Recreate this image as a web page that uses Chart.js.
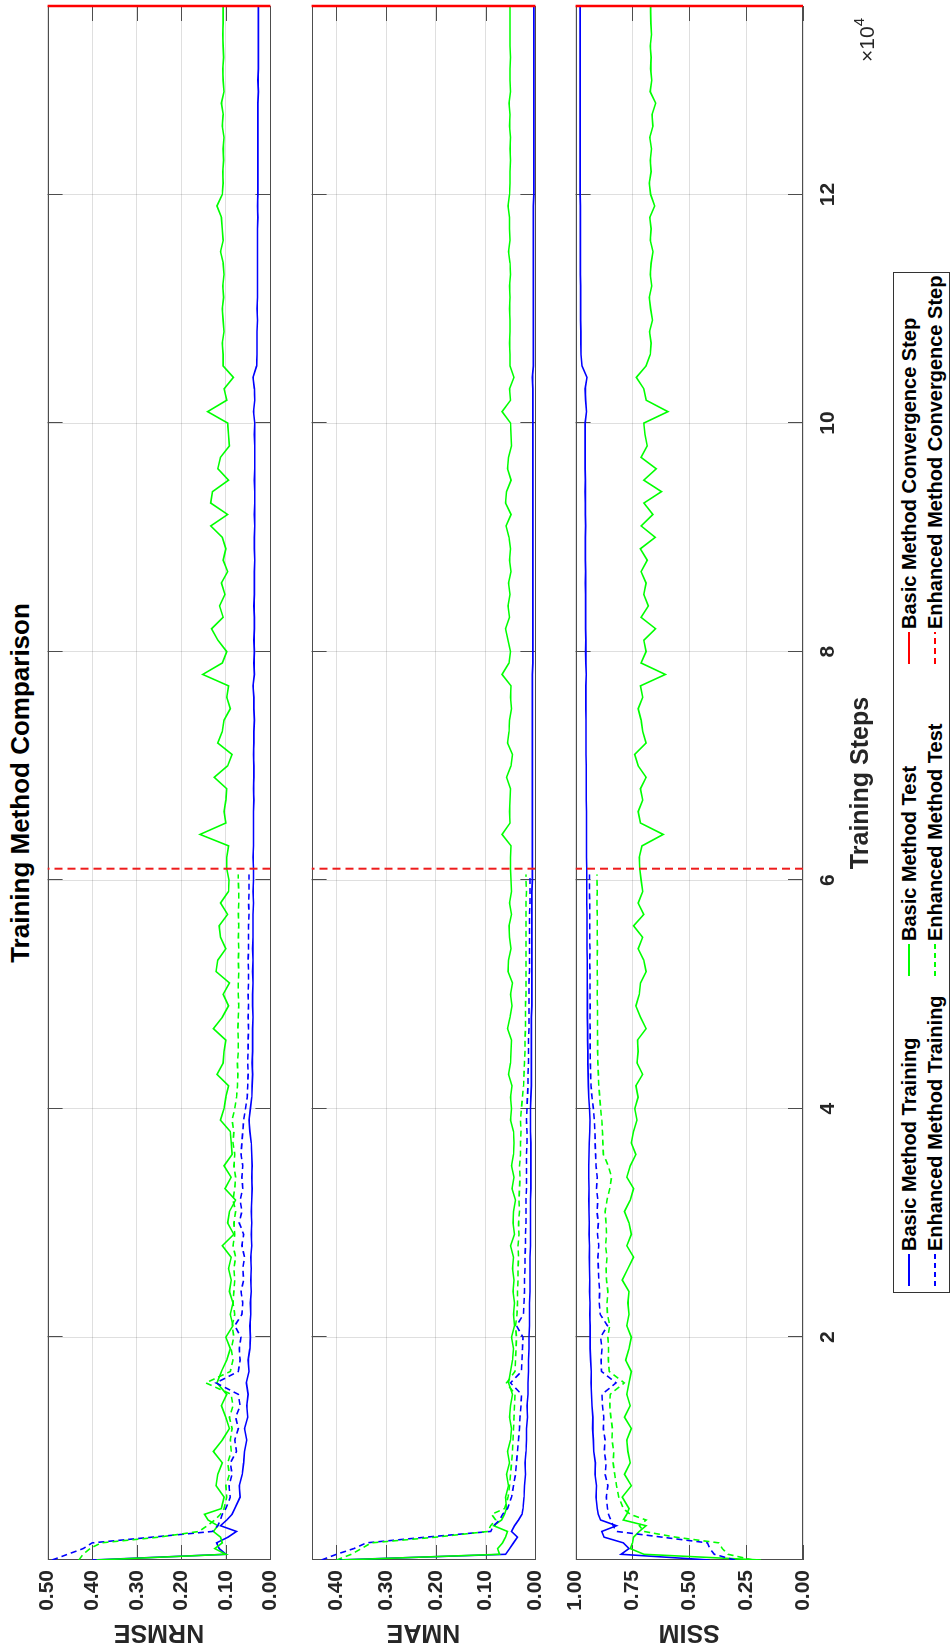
<!DOCTYPE html>
<html>
<head>
<meta charset="utf-8">
<title>Training Method Comparison</title>
<script src="https://cdn.jsdelivr.net/npm/chart.js@4.4.0/dist/chart.umd.min.js"></script>
<style>
    html, body { margin: 0; padding: 0; background: #fff; }
    body { width: 951px; height: 1652px; overflow: hidden; position: relative; }
    /* the figure is laid out landscape and turned a quarter turn */
    #figure {
        position: absolute; left: 0; top: 0; width: 1652px; height: 951px;
        background: #fff; transform-origin: 0 0;
        transform: translate(0, 1652px) rotate(-90deg);
        font-family: "Liberation Sans", Arial, Helvetica, sans-serif; color: #000;
    }
    #figure canvas { position: absolute; left: 0; }
    #title {
        position: absolute; left: 92px; width: 1554px; top: 4px; text-align: center;
        font-size: 26px; font-weight: bold; line-height: 32px;
    }
    #exponent { position: absolute; left: 1590px; top: 855px; font-size: 21px; line-height: 24px; color: #262626; }
    #exponent sup { font-size: 15px; vertical-align: 10px; line-height: 0; }
    #legend {
        position: absolute; left: 359px; top: 893px; width: 1019px; height: 55px;
        border: 1px solid #333; background: #fff;
    }
    .item {
        position: absolute; height: 22px; display: flex; align-items: center;
        font-size: 20px; font-weight: bold; white-space: nowrap;
    }
    .item svg { margin-right: 3px; }
</style>
</head>
<body>
<div id="figure">
    <div id="title">Training Method Comparison</div>
    <canvas id="nrmseChart" width="1652" height="268" style="top:25px"></canvas>
    <canvas id="nmaeChart" width="1652" height="269" style="top:289px"></canvas>
    <canvas id="ssimChart" width="1652" height="330" style="top:553px"></canvas>
    <div id="exponent">&times;10<sup>4</sup></div>
    <div id="legend">
        <div class="item" style="left:6px; top:4px">
            <svg width="32" height="20"><line x1="0" y1="10" x2="32" y2="10" stroke="#0000ff" stroke-width="2"/></svg>Basic Method Training</div>
        <div class="item" style="left:6px; top:30px">
            <svg width="32" height="20"><line x1="0" y1="10" x2="32" y2="10" stroke="#0000ff" stroke-width="2" stroke-dasharray="5 4"/></svg>Enhanced Method Training</div>
        <div class="item" style="left:316px; top:4px">
            <svg width="32" height="20"><line x1="0" y1="10" x2="32" y2="10" stroke="#00ff00" stroke-width="2"/></svg>Basic Method Test</div>
        <div class="item" style="left:316px; top:30px">
            <svg width="32" height="20"><line x1="0" y1="10" x2="32" y2="10" stroke="#00ff00" stroke-width="2" stroke-dasharray="5 4"/></svg>Enhanced Method Test</div>
        <div class="item" style="left:628px; top:4px">
            <svg width="32" height="20"><line x1="0" y1="10" x2="32" y2="10" stroke="#ff0000" stroke-width="2"/></svg>Basic Method Convergence Step</div>
        <div class="item" style="left:628px; top:30px">
            <svg width="32" height="20"><line x1="0" y1="10" x2="32" y2="10" stroke="#ff0000" stroke-width="2" stroke-dasharray="6 4"/></svg>Enhanced Method Convergence Step</div>
    </div>
</div>

<script>

// evaluation steps
const basicSteps = [
    500, 1000, 1500, 2000, 2500, 3000, 3500, 4000, 4500, 5000,
    6000, 7000, 8000, 9000, 10000, 11000, 12000, 13000, 14000, 15000,
    16000, 17000, 18000, 19000, 20000, 21000, 22000, 23000, 24000, 25000,
    26000, 27000, 28000, 29000, 30000, 31000, 32000, 33000, 34000, 35000,
    36000, 37000, 38000, 39000, 40000, 41000, 42000, 43000, 44000, 45000,
    46000, 47000, 48000, 49000, 50000, 51000, 52000, 53000, 54000, 55000,
    56000, 57000, 58000, 59000, 60000, 61000, 62000, 63000, 64000, 65000,
    66000, 67000, 68000, 69000, 70000, 71000, 72000, 73000, 74000, 75000,
    76000, 77000, 78000, 79000, 80000, 81000, 82000, 83000, 84000, 85000,
    86000, 87000, 88000, 89000, 90000, 91000, 92000, 93000, 94000, 95000,
    96000, 97000, 98000, 99000, 100000, 101000, 102000, 103000, 104000, 105000,
    106000, 107000, 108000, 109000, 110000, 111000, 112000, 113000, 114000, 115000,
    116000, 117000, 118000, 119000, 120000, 121000, 122000, 123000, 124000, 125000,
    126000, 127000, 128000, 129000, 130000, 131000, 132000, 133000, 134000, 135000,
    136000, 136500
];

const enhancedSteps = [
    500, 1000, 1500, 2000, 2500, 3000, 3500, 4000, 4500, 5000,
    6000, 7000, 8000, 9000, 10000, 11000, 12000, 13000, 14000, 15000,
    16000, 17000, 18000, 19000, 20000, 21000, 22000, 23000, 24000, 25000,
    26000, 27000, 28000, 29000, 30000, 31000, 32000, 33000, 34000, 35000,
    36000, 37000, 38000, 39000, 40000, 41000, 42000, 43000, 44000, 45000,
    46000, 47000, 48000, 49000, 50000, 51000, 52000, 53000, 54000, 55000,
    56000, 57000, 58000, 59000, 60000,
    60500
];

const basicConvergenceStep = 136500;
const enhancedConvergenceStep = 61000;

// NRMSE
const nrmseBasicTrain = [
    0.400, 0.100, 0.115, 0.121, 0.095, 0.076, 0.112, 0.098, 0.086, 0.080,
    0.068, 0.070, 0.063, 0.060, 0.058, 0.053, 0.058, 0.051, 0.053, 0.050,
    0.054, 0.048, 0.050, 0.046, 0.045, 0.046, 0.044, 0.045, 0.043, 0.044,
    0.043, 0.044, 0.042, 0.043, 0.042, 0.043, 0.042, 0.041, 0.042, 0.041,
    0.042, 0.043, 0.046, 0.048, 0.045, 0.042, 0.041, 0.040, 0.041, 0.040,
    0.040, 0.040, 0.039, 0.040, 0.040, 0.039, 0.040, 0.039, 0.040, 0.039,
    0.039, 0.039, 0.038, 0.039, 0.038, 0.038, 0.039, 0.038, 0.038, 0.038,
    0.038, 0.037, 0.038, 0.037, 0.037, 0.038, 0.037, 0.037, 0.036, 0.037,
    0.037, 0.039, 0.036, 0.037, 0.036, 0.037, 0.036, 0.036, 0.037, 0.036,
    0.036, 0.036, 0.035, 0.036, 0.036, 0.035, 0.036, 0.035, 0.035, 0.036,
    0.035, 0.035, 0.035, 0.036, 0.035, 0.038, 0.035, 0.036, 0.039, 0.031,
    0.030, 0.030, 0.030, 0.029, 0.030, 0.029, 0.029, 0.029, 0.029, 0.029,
    0.029, 0.029, 0.028, 0.029, 0.028, 0.028, 0.028, 0.028, 0.028, 0.028,
    0.028, 0.028, 0.028, 0.027, 0.028, 0.027, 0.027, 0.027, 0.027, 0.027,
    0.027, 0.027
];
const nrmseBasicTest = [
    0.390, 0.100, 0.125, 0.108, 0.112, 0.128, 0.118, 0.140, 0.148, 0.110,
    0.104, 0.122, 0.118, 0.108, 0.128, 0.108, 0.092, 0.100, 0.110, 0.098,
    0.120, 0.110, 0.098, 0.090, 0.100, 0.084, 0.090, 0.084, 0.092, 0.088,
    0.094, 0.088, 0.108, 0.082, 0.096, 0.092, 0.078, 0.102, 0.088, 0.104,
    0.086, 0.088, 0.090, 0.112, 0.104, 0.100, 0.094, 0.120, 0.106, 0.104,
    0.100, 0.128, 0.108, 0.094, 0.106, 0.092, 0.122, 0.118, 0.100, 0.112,
    0.115, 0.096, 0.112, 0.094, 0.093, 0.098, 0.098, 0.094, 0.158, 0.100,
    0.104, 0.100, 0.098, 0.126, 0.096, 0.086, 0.118, 0.108, 0.104, 0.090,
    0.098, 0.094, 0.152, 0.108, 0.098, 0.118, 0.132, 0.106, 0.114, 0.102,
    0.110, 0.096, 0.106, 0.100, 0.108, 0.134, 0.096, 0.134, 0.130, 0.094,
    0.118, 0.112, 0.092, 0.094, 0.096, 0.141, 0.098, 0.104, 0.083, 0.106,
    0.106, 0.108, 0.104, 0.106, 0.108, 0.105, 0.107, 0.104, 0.106, 0.112,
    0.106, 0.108, 0.110, 0.120, 0.108, 0.106, 0.107, 0.105, 0.106, 0.104,
    0.108, 0.106, 0.110, 0.104, 0.106, 0.107, 0.105, 0.106, 0.107, 0.106,
    0.106, 0.106
];
const nrmseEnhancedTrain = [
    0.490, 0.455, 0.420, 0.400, 0.265, 0.130, 0.118, 0.112, 0.108, 0.100,
    0.090, 0.093, 0.086, 0.090, 0.076, 0.080, 0.072, 0.078, 0.068, 0.072,
    0.122, 0.072, 0.068, 0.070, 0.066, 0.080, 0.064, 0.062, 0.066, 0.060,
    0.062, 0.058, 0.064, 0.060, 0.070, 0.064, 0.068, 0.062, 0.064, 0.062,
    0.066, 0.064, 0.062, 0.060, 0.056, 0.052, 0.051, 0.050, 0.051, 0.050,
    0.050, 0.049, 0.050, 0.049, 0.050, 0.049, 0.049, 0.050, 0.049, 0.049,
    0.049, 0.048, 0.049, 0.048, 0.048,
    0.048
];
const nrmseEnhancedTest = [
    0.430, 0.420, 0.405, 0.380, 0.250, 0.160, 0.142, 0.125, 0.112, 0.104,
    0.098, 0.100, 0.092, 0.096, 0.088, 0.090, 0.086, 0.092, 0.084, 0.088,
    0.145, 0.090, 0.084, 0.088, 0.082, 0.086, 0.080, 0.084, 0.082, 0.080,
    0.082, 0.078, 0.084, 0.080, 0.082, 0.078, 0.084, 0.080, 0.078, 0.082,
    0.080, 0.084, 0.082, 0.086, 0.080, 0.076, 0.074, 0.073, 0.074, 0.072,
    0.072, 0.073, 0.072, 0.071, 0.072, 0.072, 0.071, 0.072, 0.071, 0.072,
    0.071, 0.072, 0.071, 0.071, 0.072,
    0.072
];

// NMAE
const nmaeBasicTrain = [
    0.400, 0.060, 0.052, 0.044, 0.036, 0.048, 0.042, 0.034, 0.027, 0.025,
    0.023, 0.022, 0.020, 0.021, 0.019, 0.018, 0.018, 0.016, 0.017, 0.015,
    0.015, 0.014, 0.014, 0.013, 0.013, 0.012, 0.012, 0.012, 0.011, 0.011,
    0.011, 0.011, 0.010, 0.010, 0.010, 0.010, 0.010, 0.009, 0.009, 0.009,
    0.009, 0.009, 0.010, 0.010, 0.010, 0.009, 0.008, 0.008, 0.008, 0.008,
    0.008, 0.008, 0.008, 0.007, 0.007, 0.007, 0.007, 0.007, 0.007, 0.007,
    0.007, 0.007, 0.007, 0.007, 0.006, 0.006, 0.006, 0.006, 0.006, 0.006,
    0.006, 0.006, 0.006, 0.006, 0.006, 0.006, 0.006, 0.006, 0.006, 0.006,
    0.006, 0.006, 0.006, 0.005, 0.005, 0.005, 0.005, 0.005, 0.005, 0.005,
    0.005, 0.005, 0.005, 0.005, 0.005, 0.005, 0.005, 0.005, 0.005, 0.005,
    0.005, 0.005, 0.005, 0.005, 0.005, 0.005, 0.005, 0.005, 0.006, 0.004,
    0.004, 0.004, 0.004, 0.004, 0.004, 0.004, 0.004, 0.004, 0.004, 0.004,
    0.004, 0.004, 0.004, 0.004, 0.003, 0.003, 0.003, 0.003, 0.003, 0.003,
    0.003, 0.003, 0.003, 0.003, 0.003, 0.003, 0.003, 0.003, 0.003, 0.003,
    0.003, 0.003
];
const nmaeBasicTest = [
    0.390, 0.072, 0.076, 0.066, 0.060, 0.056, 0.084, 0.068, 0.062, 0.058,
    0.060, 0.054, 0.058, 0.052, 0.056, 0.050, 0.048, 0.052, 0.050, 0.046,
    0.054, 0.050, 0.046, 0.044, 0.048, 0.042, 0.044, 0.042, 0.045, 0.043,
    0.046, 0.044, 0.050, 0.042, 0.045, 0.044, 0.040, 0.047, 0.043, 0.048,
    0.044, 0.043, 0.044, 0.050, 0.048, 0.050, 0.047, 0.054, 0.050, 0.049,
    0.048, 0.056, 0.051, 0.047, 0.050, 0.046, 0.055, 0.054, 0.049, 0.052,
    0.053, 0.048, 0.052, 0.048, 0.049, 0.050, 0.050, 0.049, 0.067, 0.051,
    0.052, 0.051, 0.050, 0.058, 0.049, 0.046, 0.056, 0.053, 0.052, 0.048,
    0.050, 0.049, 0.067, 0.053, 0.050, 0.055, 0.060, 0.052, 0.055, 0.051,
    0.054, 0.049, 0.052, 0.050, 0.053, 0.059, 0.049, 0.060, 0.058, 0.049,
    0.056, 0.054, 0.048, 0.049, 0.050, 0.067, 0.050, 0.052, 0.043, 0.051,
    0.051, 0.052, 0.051, 0.051, 0.052, 0.051, 0.052, 0.050, 0.051, 0.054,
    0.051, 0.052, 0.052, 0.055, 0.052, 0.051, 0.051, 0.050, 0.051, 0.050,
    0.052, 0.051, 0.053, 0.050, 0.051, 0.051, 0.050, 0.051, 0.051, 0.051,
    0.051, 0.051
];
const nmaeEnhancedTrain = [
    0.430, 0.400, 0.365, 0.340, 0.220, 0.090, 0.084, 0.072, 0.066, 0.056,
    0.048, 0.044, 0.040, 0.038, 0.036, 0.034, 0.032, 0.031, 0.029, 0.028,
    0.050, 0.028, 0.027, 0.026, 0.025, 0.038, 0.024, 0.023, 0.022, 0.022,
    0.021, 0.021, 0.020, 0.020, 0.019, 0.019, 0.019, 0.018, 0.018, 0.018,
    0.018, 0.017, 0.017, 0.018, 0.017, 0.016, 0.015, 0.015, 0.014, 0.014,
    0.014, 0.013, 0.013, 0.013, 0.013, 0.013, 0.012, 0.012, 0.012, 0.012,
    0.012, 0.012, 0.011, 0.011, 0.011,
    0.011
];
const nmaeEnhancedTest = [
    0.400, 0.370, 0.350, 0.330, 0.200, 0.095, 0.090, 0.080, 0.088, 0.062,
    0.055, 0.052, 0.050, 0.048, 0.046, 0.045, 0.044, 0.043, 0.042, 0.041,
    0.058, 0.041, 0.040, 0.039, 0.038, 0.040, 0.037, 0.036, 0.036, 0.035,
    0.035, 0.034, 0.035, 0.033, 0.034, 0.032, 0.033, 0.032, 0.031, 0.032,
    0.030, 0.030, 0.029, 0.030, 0.028, 0.026, 0.024, 0.023, 0.022, 0.021,
    0.021, 0.020, 0.020, 0.020, 0.019, 0.019, 0.019, 0.019, 0.019, 0.019,
    0.019, 0.019, 0.019, 0.018, 0.019,
    0.019
];

// SSIM
const ssimBasicTrain = [
    0.410, 0.800, 0.765, 0.790, 0.875, 0.885, 0.820, 0.890, 0.900, 0.905,
    0.910, 0.908, 0.915, 0.913, 0.920, 0.922, 0.925, 0.924, 0.928, 0.930,
    0.932, 0.931, 0.934, 0.936, 0.937, 0.936, 0.938, 0.937, 0.939, 0.938,
    0.939, 0.940, 0.939, 0.941, 0.940, 0.941, 0.942, 0.941, 0.942, 0.942,
    0.941, 0.940, 0.938, 0.937, 0.939, 0.942, 0.944, 0.945, 0.946, 0.946,
    0.947, 0.947, 0.948, 0.948, 0.948, 0.949, 0.949, 0.949, 0.950, 0.950,
    0.950, 0.950, 0.951, 0.951, 0.951, 0.951, 0.952, 0.952, 0.952, 0.952,
    0.952, 0.953, 0.953, 0.953, 0.953, 0.954, 0.954, 0.954, 0.954, 0.955,
    0.955, 0.955, 0.953, 0.955, 0.956, 0.955, 0.956, 0.956, 0.956, 0.956,
    0.957, 0.956, 0.957, 0.957, 0.957, 0.956, 0.957, 0.957, 0.958, 0.957,
    0.958, 0.958, 0.958, 0.958, 0.958, 0.952, 0.956, 0.958, 0.950, 0.972,
    0.976, 0.977, 0.977, 0.978, 0.978, 0.978, 0.978, 0.979, 0.979, 0.979,
    0.979, 0.979, 0.979, 0.979, 0.980, 0.980, 0.980, 0.980, 0.980, 0.980,
    0.980, 0.980, 0.980, 0.980, 0.980, 0.980, 0.980, 0.980, 0.980, 0.980,
    0.980, 0.980
];
const ssimBasicTest = [
    0.185, 0.700, 0.760, 0.750, 0.745, 0.720, 0.690, 0.790, 0.775, 0.765,
    0.795, 0.755, 0.785, 0.760, 0.770, 0.775, 0.755, 0.785, 0.760, 0.775,
    0.765, 0.755, 0.780, 0.765, 0.755, 0.775, 0.765, 0.770, 0.765, 0.795,
    0.770, 0.745, 0.775, 0.755, 0.765, 0.785, 0.760, 0.745, 0.775, 0.760,
    0.735, 0.755, 0.745, 0.730, 0.740, 0.725, 0.735, 0.705, 0.730, 0.725,
    0.728, 0.690, 0.715, 0.735, 0.720, 0.715, 0.690, 0.700, 0.725, 0.705,
    0.745, 0.700, 0.725, 0.705, 0.712, 0.718, 0.720, 0.708, 0.615, 0.715,
    0.725, 0.705, 0.715, 0.690, 0.725, 0.740, 0.690, 0.705, 0.712, 0.725,
    0.705, 0.715, 0.605, 0.712, 0.690, 0.700, 0.648, 0.712, 0.680, 0.700,
    0.690, 0.712, 0.685, 0.715, 0.650, 0.712, 0.660, 0.700, 0.622, 0.700,
    0.645, 0.712, 0.685, 0.695, 0.700, 0.594, 0.690, 0.700, 0.733, 0.690,
    0.672, 0.668, 0.675, 0.662, 0.670, 0.676, 0.665, 0.672, 0.668, 0.660,
    0.672, 0.668, 0.674, 0.652, 0.670, 0.676, 0.668, 0.672, 0.666, 0.674,
    0.660, 0.664, 0.648, 0.672, 0.665, 0.670, 0.668, 0.672, 0.666, 0.669,
    0.670, 0.670
];
const ssimEnhancedTrain = [
    0.300, 0.390, 0.410, 0.420, 0.620, 0.820, 0.835, 0.845, 0.855, 0.860,
    0.865, 0.858, 0.870, 0.866, 0.874, 0.870, 0.878, 0.876, 0.882, 0.884,
    0.822, 0.886, 0.888, 0.884, 0.890, 0.860, 0.892, 0.896, 0.894, 0.898,
    0.900, 0.902, 0.898, 0.904, 0.900, 0.906, 0.902, 0.908, 0.905, 0.910,
    0.912, 0.914, 0.915, 0.918, 0.922, 0.928, 0.932, 0.934, 0.935, 0.936,
    0.936, 0.936, 0.937, 0.936, 0.937, 0.937, 0.937, 0.938, 0.937, 0.938,
    0.938, 0.938, 0.938, 0.939, 0.939,
    0.939
];
const ssimEnhancedTest = [
    0.220, 0.330, 0.355, 0.370, 0.560, 0.700, 0.720, 0.690, 0.760, 0.790,
    0.810, 0.820, 0.828, 0.835, 0.832, 0.840, 0.838, 0.845, 0.850, 0.848,
    0.786, 0.852, 0.856, 0.855, 0.858, 0.850, 0.860, 0.862, 0.858, 0.864,
    0.866, 0.862, 0.868, 0.864, 0.866, 0.870, 0.862, 0.850, 0.842, 0.856,
    0.878, 0.880, 0.882, 0.885, 0.890, 0.894, 0.898, 0.900, 0.902, 0.903,
    0.903, 0.904, 0.904, 0.904, 0.905, 0.904, 0.905, 0.905, 0.904, 0.905,
    0.905, 0.905, 0.906, 0.905, 0.906,
    0.906
];

// axis ticks
const stepTicks = [20000, 40000, 60000, 80000, 100000, 120000];
const nrmseTicks = [0, 0.1, 0.2, 0.3, 0.4, 0.5];
const nmaeTicks = [0, 0.1, 0.2, 0.3, 0.4];
const ssimTicks = [0, 0.25, 0.5, 0.75, 1];


Chart.defaults.font.family = '"Liberation Sans", Arial, Helvetica, sans-serif';
Chart.defaults.color = '#262626';

const AXIS_COLOR = '#4d4d4d';
const GRID_COLOR = 'rgba(38, 38, 38, 0.15)';

const toPoints = (steps, values) => steps.map((s, i) => ({ x: s, y: values[i] }));
const vertical = (step, top) => [{ x: step, y: 0 }, { x: step, y: top }];

// axes box with inward tick marks on all four sides
const axesBox = {
    id: 'axesBox',
    beforeDatasetsDraw(chart) {
        const { ctx, chartArea: a, scales: { x, y } } = chart;
        const len = 15;
        ctx.save();
        ctx.strokeStyle = AXIS_COLOR;
        ctx.lineWidth = 1;
        ctx.beginPath();
        x.ticks.forEach(t => {
            const px = Math.round(x.getPixelForValue(t.value)) + 0.5;
            ctx.moveTo(px, a.bottom); ctx.lineTo(px, a.bottom - len);
            ctx.moveTo(px, a.top); ctx.lineTo(px, a.top + len);
        });
        y.ticks.forEach(t => {
            const py = Math.round(y.getPixelForValue(t.value)) + 0.5;
            ctx.moveTo(a.left, py); ctx.lineTo(a.left + len, py);
            ctx.moveTo(a.right, py); ctx.lineTo(a.right - len, py);
        });
        ctx.stroke();
        ctx.strokeRect(Math.round(a.left) + 0.5, Math.round(a.top) + 0.5,
            Math.round(a.right - a.left) - 1, Math.round(a.bottom - a.top) - 1);
        ctx.restore();
    }
};

const renderPanel = (canvasId, yLabel, yMax, yTicks, m, showSteps) => {

    const datasets = [
        {
            label: 'Basic Method Convergence Step',
            data: vertical(basicConvergenceStep, yMax),
            borderColor: '#ff0000', borderWidth: 2.5, clip: false
        },
        {
            label: 'Enhanced Method Convergence Step',
            data: vertical(enhancedConvergenceStep, yMax),
            borderColor: '#ee1c1c', borderWidth: 2, borderDash: [8, 5]
        },
        {
            label: 'Enhanced Method Test',
            data: toPoints(enhancedSteps, m.enhancedTest),
            borderColor: '#00ff00', borderWidth: 1.6, borderDash: [6, 4]
        },
        {
            label: 'Enhanced Method Training',
            data: toPoints(enhancedSteps, m.enhancedTrain),
            borderColor: '#0000ff', borderWidth: 1.6, borderDash: [6, 4]
        },
        {
            label: 'Basic Method Test',
            data: toPoints(basicSteps, m.basicTest),
            borderColor: '#00ff00', borderWidth: 1.6
        },
        {
            label: 'Basic Method Training',
            data: toPoints(basicSteps, m.basicTrain),
            borderColor: '#0000ff', borderWidth: 1.6
        }
    ];

    new Chart(canvasId, {
        type: 'line',
        data: { datasets: datasets },
        options: {
            responsive: false,
            animation: false,
            devicePixelRatio: 1,
            layout: { padding: { top: 20, bottom: showSteps ? 0 : 20, left: 0, right: 6 } },
            elements: { point: { radius: 0 }, line: { tension: 0, fill: false } },
            plugins: { legend: { display: false }, tooltip: { enabled: false } },
            scales: {
                x: {
                    type: 'linear',
                    min: 500,
                    max: 136500,
                    afterBuildTicks: s => { s.ticks = stepTicks.map(v => ({ value: v })); },
                    afterFit: s => { s.height = showSteps ? 80 : 0; },
                    grid: { color: GRID_COLOR, drawTicks: false },
                    border: { display: false },
                    ticks: {
                        display: showSteps,
                        padding: 13,
                        font: { size: 21, weight: 'bold' },
                        callback: v => String(v / 10000)
                    },
                    title: {
                        display: showSteps,
                        text: 'Training Steps',
                        font: { size: 25, weight: 'bold' },
                        padding: { top: 0, bottom: 7 }
                    }
                },
                y: {
                    min: 0,
                    max: yMax,
                    afterBuildTicks: s => { s.ticks = yTicks.map(v => ({ value: v })); },
                    afterFit: s => { s.width = 92; },
                    grid: { color: GRID_COLOR, drawTicks: false },
                    border: { display: false },
                    ticks: {
                        padding: 10,
                        font: { size: 21, weight: 'bold' },
                        callback: v => v.toFixed(2)
                    },
                    title: {
                        display: true,
                        text: yLabel,
                        font: { size: 25, weight: 'bold' },
                        padding: { top: 5, bottom: 0 }
                    }
                }
            }
        },
        plugins: [axesBox]
    });
}

renderPanel('nrmseChart', 'NRMSE', 0.5, nrmseTicks, {
    basicTrain: nrmseBasicTrain, basicTest: nrmseBasicTest,
    enhancedTrain: nrmseEnhancedTrain, enhancedTest: nrmseEnhancedTest
}, false);

renderPanel('nmaeChart', 'NMAE', 0.45, nmaeTicks, {
    basicTrain: nmaeBasicTrain, basicTest: nmaeBasicTest,
    enhancedTrain: nmaeEnhancedTrain, enhancedTest: nmaeEnhancedTest
}, false);

renderPanel('ssimChart', 'SSIM', 1, ssimTicks, {
    basicTrain: ssimBasicTrain, basicTest: ssimBasicTest,
    enhancedTrain: ssimEnhancedTrain, enhancedTest: ssimEnhancedTest
}, true);

</script>
</body>
</html>
